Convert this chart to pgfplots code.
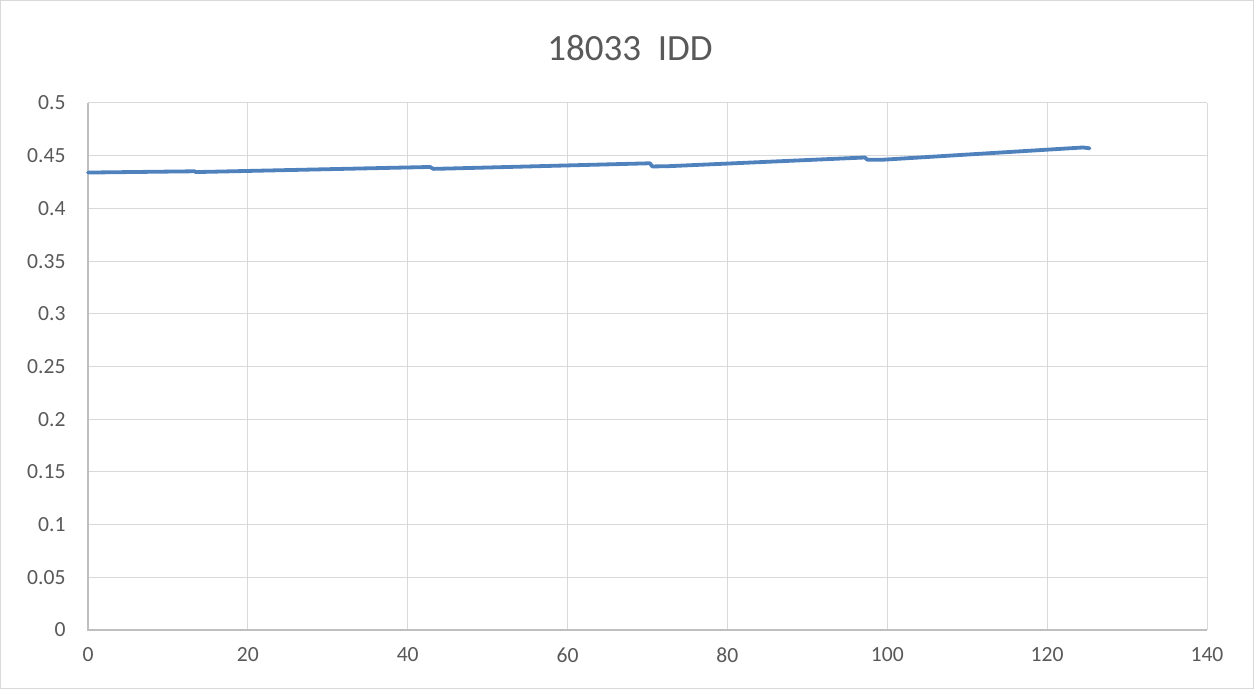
\documentclass[border=0pt]{standalone}
\usepackage{pgfplots}
\pgfplotsset{compat=1.18}
\usepackage{fontspec}
\setmainfont{Carlito}
\definecolor{txt}{HTML}{595959}
\definecolor{grd}{HTML}{D9D9D9}
\definecolor{axl}{HTML}{BFBFBF}
\definecolor{ser}{HTML}{4F81BD}
\begin{document}
\begin{tikzpicture}[x=1bp,y=1bp]
\fill[white] (0,0) rectangle (1254,689);
\draw[grd, line width=1bp] (0.5,0.5) rectangle (1253.5,688.5);
\node[text=txt, font=\fontsize{37bp}{44bp}\selectfont] at (630,641) {18033\ \ IDD};
\begin{axis}[
  at={(88bp,59bp)}, anchor=origin,
  scale only axis, width=1119bp, height=527bp,
  xmin=0, xmax=140, ymin=0, ymax=0.5,
  xtick={0,20,...,140},
  ytick={0,0.05,...,0.5},
  yticklabels={0,0.05,0.1,0.15,0.2,0.25,0.3,0.35,0.4,0.45,0.5},
  grid=major,
  major grid style={grd, line width=1bp},
  axis line style={draw=none},
  tick style={draw=none},
  ticklabel style={text=txt, font=\fontsize{21.6bp}{26bp}\selectfont},
  /pgf/number format/assume math mode=true,
  xticklabel style={yshift=-14bp},
  yticklabel style={xshift=-19bp},
  clip=false,
]
\draw[axl, line width=1.3bp] (axis cs:0,0.5) -- (axis cs:0,0) -- (axis cs:140,0);
\addplot[ser, line width=3.8bp, line join=round, line cap=round] coordinates {
(0,0.4340) (13.3,0.4352) (13.5,0.4345) (15,0.4347)
(42.8,0.4393) (43.2,0.4375) (45,0.4378)
(70.3,0.4428) (70.6,0.4398) (72.5,0.4400)
(97.2,0.4483) (97.5,0.4462) (99.5,0.4462)
(124.5,0.4578) (125.3,0.4570)
};
\end{axis}
\end{tikzpicture}
\end{document}
